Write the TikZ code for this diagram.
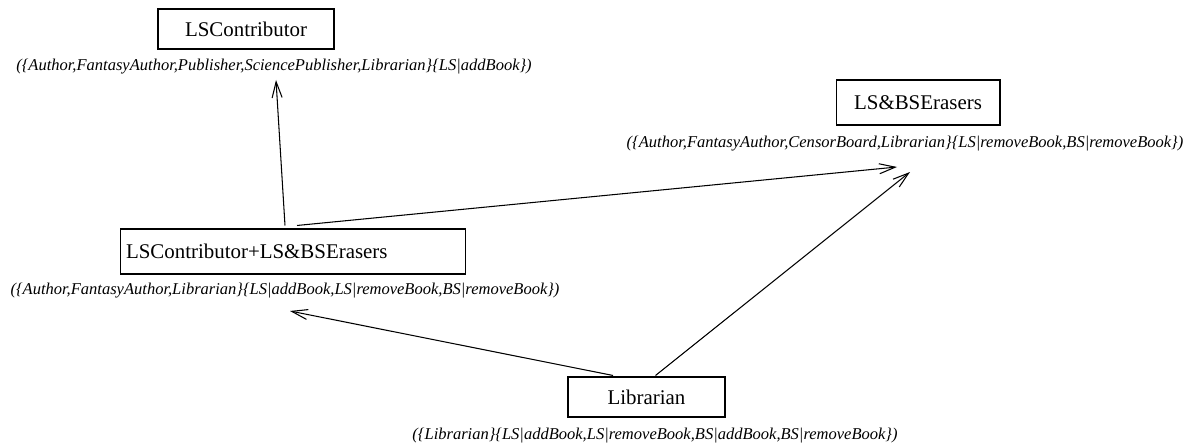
\documentclass[tikz,border=0pt]{standalone}
\usepackage{fontspec}
\setmainfont{Liberation Serif}
\usetikzlibrary{arrows.meta}
\begin{document}
\begin{tikzpicture}[x=0.02cm,y=-0.02cm,
  cls/.style={draw,line width=0.6pt,inner sep=0pt,font=\fontsize{11.9}{14}\selectfont},
  sig/.style={inner sep=0pt,font=\fontsize{9.4}{11}\selectfont\itshape},
  dep/.style={line width=0.6pt,-{Straight Barb[length=0.32cm,width=0.2cm]}}]
\useasboundingbox (0,0) rectangle (1200,446);

% classes
\node[cls,minimum width=3.52cm,minimum height=0.8cm] (lsc) at (246,29) {LSContributor};
\node[cls,minimum width=3.28cm,minimum height=0.9cm] (lsbs) at (918,102.5) {LS\&BSErasers};
\node[cls,minimum height=0.9cm,text width=6.68cm,inner xsep=0.12cm,align=left] (comb) at (293,251.5) {LSContributor+LS\&BSErasers};
\node[cls,minimum width=3.14cm,minimum height=0.8cm] (lib) at (646.5,397) {Librarian};

% signatures
\node[sig] (lsc-sig) at (274,67) {(\{Author,FantasyAuthor,Publisher,SciencePublisher,Librarian\}\{LS|addBook\})};
\node[sig] (lsbs-sig) at (905,144) {(\{Author,FantasyAuthor,CensorBoard,Librarian\}\{LS|removeBook,BS|removeBook\})};
\node[sig] (comb-sig) at (285,291) {(\{Author,FantasyAuthor,Librarian\}\{LS|addBook,LS|removeBook,BS|removeBook\})};
\node[sig] (lib-sig) at (655,436) {(\{Librarian\}\{LS|addBook,LS|removeBook,BS|addBook,BS|removeBook\})};

% arrow targets below the signatures
\coordinate (t1) at (276,80);
\coordinate (t2) at (897,167);
\coordinate (t3) at (910,172);
\coordinate (t4) at (290,311);

% dependencies
\draw[dep] ([shift={(-8,-3)}]comb.north) -- (t1);
\draw[dep] ([shift={(4,-3)}]comb.north) -- (t2);
\draw[dep] ([shift={(9,-1)}]lib.north) -- (t3);
\draw[dep] ([shift={(-33.5,-1)}]lib.north) -- (t4);
\end{tikzpicture}
\end{document}
